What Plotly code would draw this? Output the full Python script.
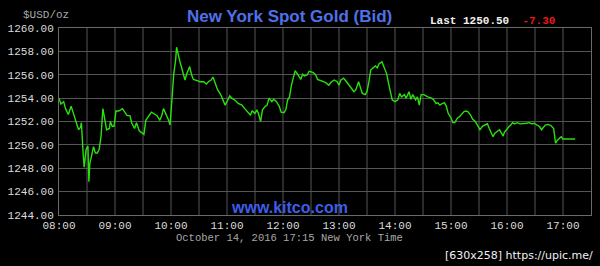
import plotly.graph_objects as go
import pandas as pd

times = ["08:00","08:02","08:05","08:07","08:10","08:13","08:15","08:18","08:21","08:23",
         "08:24","08:26","08:27","08:29","08:31","08:32","08:33","08:35","08:37","08:39",
         "08:41","08:43","08:45","08:47","08:49","08:51","08:54","08:55","08:57","08:59",
         "09:01","09:04","09:08","09:11","09:13","09:16","09:18","09:21","09:23","09:26",
         "09:28","09:31","09:33","09:36","09:39","09:43","09:45","09:48","09:50","09:52",
         "09:55","09:57","09:59","10:01","10:03","10:05","10:06","10:09","10:12","10:13",
         "10:15","10:17","10:20","10:22","10:24","10:28","10:31","10:35","10:38","10:40",
         "10:43","10:45","10:47","10:50","10:53","10:55","10:58","11:00","11:03","11:05",
         "11:09","11:12","11:16","11:19","11:23","11:25","11:27","11:30","11:32","11:34",
         "11:36","11:38","11:41","11:43","11:45","11:48","11:50","11:53","11:56","11:58",
         "12:01","12:03","12:05","12:07","12:09","12:11","12:13","12:16","12:19","12:21",
         "12:23","12:26","12:28","12:32","12:35","12:37","12:41","12:44","12:46","12:49",
         "12:52","12:55","12:58","13:00","13:02","13:05","13:08","13:10","13:13","13:16",
         "13:18","13:21","13:23","13:25","13:28","13:30","13:32","13:34","13:36","13:39",
         "13:41","13:43","13:46","13:48","13:51","13:53","13:55","13:57","14:00","14:03",
         "14:05","14:07","14:10","14:12","14:15","14:17","14:19","14:22","14:24","14:26",
         "14:28","14:31","14:35","14:38","14:41","14:44","14:46","14:48","14:51","14:53",
         "14:55","14:57","15:00","15:02","15:04","15:07","15:09","15:11","15:14","15:16",
         "15:18","15:21","15:23","15:26","15:29","15:31","15:34","15:36","15:39","15:41",
         "15:43","15:45","15:47","15:50","15:52","15:54","15:56","15:57","16:00","16:02",
         "16:04","16:06","16:08","16:11","16:14","16:18","16:21","16:24","16:26","16:29",
         "16:32","16:35","16:37","16:39","16:41","16:44","16:47","16:50","16:51","16:52",
         "16:54","16:56","16:58","17:00","17:13"]

bids = [1254.0,1253.5,1253.7,1253.1,1252.6,1253.3,1252.8,1252.0,1251.3,1251.5,
        1251.9,1249.1,1248.1,1249.6,1249.9,1246.85,1248.4,1249.1,1249.85,1249.3,
        1249.3,1249.6,1250.7,1253.1,1252.1,1251.3,1251.4,1252.0,1251.6,1251.6,
        1252.9,1252.9,1253.1,1252.8,1252.5,1252.5,1251.85,1251.4,1251.9,1251.2,
        1251.1,1250.9,1252.1,1252.5,1252.8,1252.6,1252.5,1252.1,1252.5,1253.1,
        1252.6,1252.2,1251.7,1254.1,1256.1,1257.3,1258.35,1257.3,1256.4,1256.0,
        1255.55,1256.1,1256.7,1256.0,1255.6,1255.5,1255.4,1255.4,1255.2,1255.4,
        1255.55,1255.8,1255.3,1254.7,1254.35,1253.9,1253.4,1253.7,1254.2,1254.0,
        1253.8,1253.55,1253.4,1253.1,1252.75,1252.55,1252.9,1252.7,1253.0,1252.6,
        1252.0,1253.0,1253.3,1253.4,1254.0,1253.7,1253.9,1253.7,1253.3,1252.8,
        1252.75,1253.0,1253.85,1254.1,1255.1,1255.8,1256.35,1256.0,1255.6,1256.05,
        1255.9,1256.0,1256.3,1256.2,1256.0,1255.6,1255.5,1255.4,1255.3,1255.1,
        1255.4,1255.55,1255.4,1255.1,1255.55,1255.7,1255.4,1255.2,1254.85,1254.55,
        1254.7,1255.4,1254.9,1254.4,1254.3,1254.55,1255.4,1256.4,1256.55,1256.75,
        1256.6,1256.95,1257.1,1256.75,1256.1,1255.3,1254.4,1253.85,1253.7,1253.85,
        1254.4,1254.1,1254.3,1254.0,1254.55,1253.9,1254.3,1253.85,1254.1,1253.4,
        1254.3,1254.3,1254.1,1254.05,1253.9,1253.55,1253.6,1253.4,1253.55,1253.6,
        1253.3,1252.7,1252.3,1251.9,1251.9,1252.3,1252.4,1252.55,1252.85,1252.9,
        1252.85,1252.55,1252.2,1252.0,1251.55,1251.3,1251.6,1251.7,1251.8,1251.4,
        1251.0,1250.7,1251.0,1251.2,1251.3,1251.0,1250.75,1251.05,1251.4,1251.55,
        1251.7,1251.9,1251.8,1251.9,1251.8,1251.8,1251.85,1251.9,1251.8,1251.85,
        1251.7,1251.55,1251.3,1251.55,1251.7,1251.75,1251.65,1251.4,1250.7,1250.15,
        1250.4,1250.55,1250.7,1250.5,1250.5]

y_ticks = [1244, 1246, 1248, 1250, 1252, 1254, 1256, 1258, 1260]
x_tick_labels = ["08:00","09:00","10:00","11:00","12:00","13:00","14:00","15:00","16:00","17:00"]
last_price = "1250.50"
change = "-7.30"

DAY = "2016-10-14 "
xs = pd.to_datetime([DAY + t for t in times])
x_tickvals = pd.to_datetime([DAY + t for t in x_tick_labels])
half_hours = pd.date_range(DAY + "08:00", DAY + "17:30", freq="30min")

mono = "Liberation Mono"
fig = go.Figure()
fig.add_trace(go.Scatter(x=xs, y=bids, mode="lines",
                         line=dict(color="#2be00f", width=1.4), hoverinfo="skip"))

fig.update_layout(
    width=600, height=266,
    paper_bgcolor="#000000", plot_bgcolor="#000000",
    margin=dict(l=58, r=8, t=28, b=51),
    showlegend=False,
    xaxis=dict(range=[pd.Timestamp(DAY + "08:00"), pd.Timestamp(DAY + "17:30")],
               tickvals=list(x_tickvals), ticktext=x_tick_labels,
               tickfont=dict(family=mono, size=11, color="#dcdcdc"),
               showgrid=False, zeroline=False,
               showline=True, linecolor="#6a6a6a", linewidth=1, mirror=True,
               ticks="", ticklen=0),
    yaxis=dict(range=[1244, 1260], tickvals=y_ticks,
               ticktext=[f"{v:.2f}" for v in y_ticks],
               tickfont=dict(family=mono, size=11, color="#dcdcdc"),
               showgrid=True, gridcolor="#555555", gridwidth=1, zeroline=False,
               showline=True, linecolor="#6a6a6a", linewidth=1, mirror=True,
               ticks="outside", ticklen=2, tickcolor="#000000"),
)

for hh in half_hours[1:-1]:
    fig.add_shape(type="line", xref="x", yref="paper", x0=hh, x1=hh, y0=0, y1=1,
                  line=dict(color="#555555", width=1), layer="below")

fig.add_annotation(text="New York Spot Gold (Bid)", xref="paper", yref="paper",
                   x=0.434, y=1.0, yshift=12, xanchor="center", yanchor="middle",
                   showarrow=False,
                   font=dict(family="Liberation Sans", size=17, color="#5070e8", weight="bold"))
fig.add_annotation(text="$USD/oz", xref="paper", yref="paper", x=-0.072, y=1.0, yshift=13,
                   xanchor="left", yanchor="middle", showarrow=False,
                   font=dict(family=mono, size=11, color="#a8a8a8"))
fig.add_annotation(text=f"Last {last_price}  <span style='color:#e81818'>{change}</span>",
                   xref="paper", yref="paper", x=0.694, y=1.0, yshift=7,
                   xanchor="left", yanchor="middle", showarrow=False,
                   font=dict(family=mono, size=11, color="#f0f0f0", weight="bold"))
fig.add_annotation(text="www.kitco.com", xref="paper", yref="paper", x=0.434, y=0.0, yshift=8,
                   xanchor="center", yanchor="middle", showarrow=False,
                   font=dict(family="Liberation Sans", size=16, color="#3d5ee8", weight="bold"))
fig.add_annotation(text="October 14, 2016 17:15 New York Time", xref="paper", yref="paper",
                   x=0.434, y=0.0, yshift=-23, xanchor="center", yanchor="middle",
                   showarrow=False, font=dict(family=mono, size=10.5, color="#a8a8a8"))
fig.add_annotation(text="[630x258] https://upic.me/", xref="paper", yref="paper",
                   x=1.0, xshift=4, y=0.0, yshift=-40, xanchor="right", yanchor="middle",
                   showarrow=False, font=dict(family="DejaVu Sans", size=11, color="#f0f0f0"))

fig.write_html("out.html")
